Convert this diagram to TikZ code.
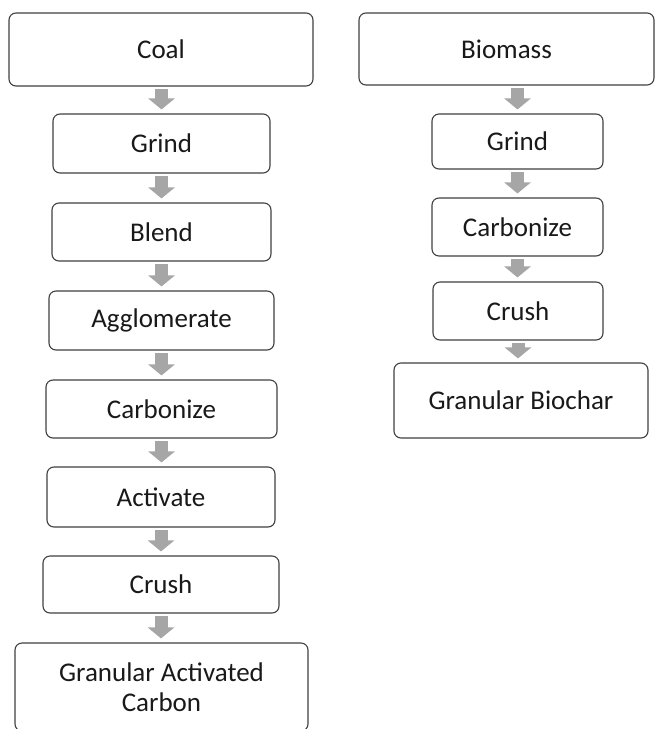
\documentclass[tikz,border=0pt]{standalone}
\usepackage{fontspec}
\setmainfont{Carlito}
\usetikzlibrary{arrows.meta}
\definecolor{boxline}{HTML}{404040}
\definecolor{arrowgray}{HTML}{A6A6A6}
\tikzset{
  stepbox/.style={draw=boxline, line width=1.1pt, rounded corners=7pt, fill=white,
    inner sep=0pt, align=center, font=\fontsize{27}{30}\selectfont, text=black!90},
  flowarrow/.style={draw=arrowgray, line width=13pt,
    -{Triangle[width=26pt,length=11pt]}, shorten <=2pt, shorten >=4pt}
}
\begin{document}
\begin{tikzpicture}[x=1pt,y=-1pt]
\useasboundingbox (0,0) rectangle (657,729);
% left column
\node[stepbox, minimum width=304pt, minimum height=73pt] (coal) at (161,49.5) {Coal};
\node[stepbox, minimum width=217pt, minimum height=59pt] (grindA) at (161.5,143.5) {Grind};
\node[stepbox, minimum width=219pt, minimum height=58pt] (blend) at (161.5,232) {Blend};
\node[stepbox, minimum width=225pt, minimum height=59pt] (aggl) at (161.5,320.5) {Agglomerate};
\node[stepbox, minimum width=231pt, minimum height=58pt] (carbA) at (161.5,409) {Carbonize};
\node[stepbox, minimum width=228pt, minimum height=60pt] (activ) at (161,497) {Activate};
\node[stepbox, minimum width=236pt, minimum height=57pt] (crushA) at (161,584.5) {Crush};
\node[stepbox, minimum width=293pt, minimum height=88pt] (gac) at (161.5,687) {Granular Activated\\Carbon};
% right column
\node[stepbox, minimum width=295pt, minimum height=72pt] (bio) at (506.5,49) {Biomass};
\node[stepbox, minimum width=171pt, minimum height=55pt] (grindB) at (517.5,141.5) {Grind};
\node[stepbox, minimum width=171pt, minimum height=58pt] (carbB) at (517.5,227) {Carbonize};
\node[stepbox, minimum width=170pt, minimum height=58pt] (crushB) at (518,311) {Crush};
\node[stepbox, minimum width=254pt, minimum height=75pt] (gb) at (521,400.5) {Granular Biochar};
% arrows left
\draw[flowarrow] (grindA.north |- coal.south) -- (grindA.north);
\draw[flowarrow] (grindA.south) -- (grindA.south |- blend.north);
\draw[flowarrow] (blend.south) -- (blend.south |- aggl.north);
\draw[flowarrow] (aggl.south) -- (aggl.south |- carbA.north);
\draw[flowarrow] (carbA.south) -- (carbA.south |- activ.north);
\draw[flowarrow] (activ.south) -- (activ.south |- crushA.north);
\draw[flowarrow] (crushA.south) -- (crushA.south |- gac.north);
% arrows right
\draw[flowarrow] (grindB.north |- bio.south) -- (grindB.north);
\draw[flowarrow] (grindB.south) -- (grindB.south |- carbB.north);
\draw[flowarrow] (carbB.south) -- (carbB.south |- crushB.north);
\draw[flowarrow] (crushB.south) -- (crushB.south |- gb.north);
\end{tikzpicture}
\end{document}
